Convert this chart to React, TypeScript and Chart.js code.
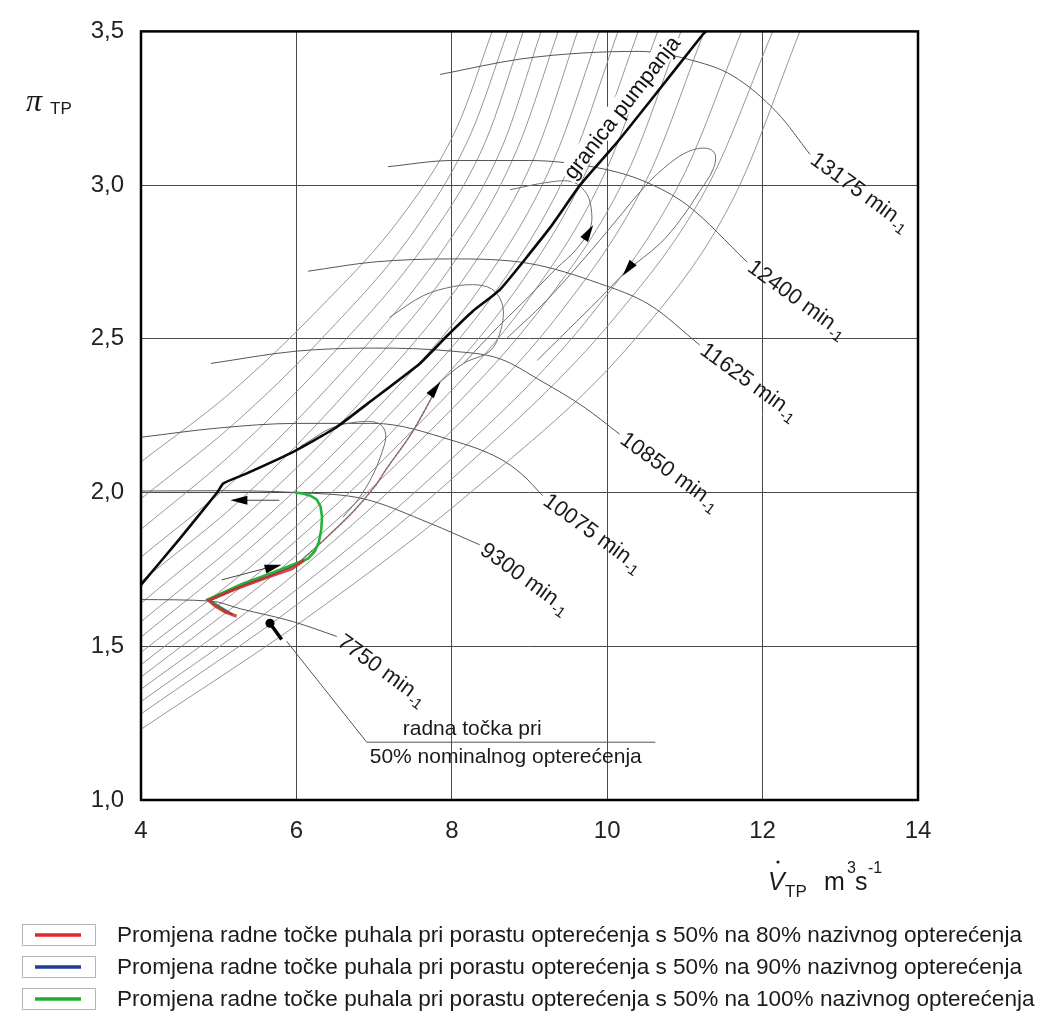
import React, { useEffect, useRef } from 'react';
import { Chart, registerables } from 'chart.js';

Chart.register(...registerables);

type P = [number, number];

// ---------- axes ----------
const xTickValues = [4, 6, 8, 10, 12, 14];
const yTickValues = [1.0, 1.5, 2.0, 2.5, 3.0, 3.5];

// ---------- surge line (granica pumpanja) ----------
const surgeLine: P[] = [
  [4.0, 1.7], [4.5, 1.85], [4.98, 2.0], [5.06, 2.03], [5.34, 2.06], [5.94, 2.13], [6.5, 2.21],
  [6.92, 2.29], [7.59, 2.42], [7.94, 2.51], [8.27, 2.59], [8.62, 2.66], [9.26, 2.86], [9.65, 3.0],
  [10.13, 3.14], [10.51, 3.26], [11.23, 3.49], [11.27, 3.5],
];
const surgeLabelAnchor: P = [9.64, 3.0];

// ---------- constant speed lines ----------
const speedLabels = ['7750', '9300', '10075', '10850', '11625', '12400', '13175'];
const speed7750: P[] = [[4.0, 1.652], [4.9, 1.647], [5.28, 1.622], [5.96, 1.58], [6.52, 1.532]];
const speed9300: P[] = [[4.0, 2.005], [5.0, 2.006], [6.0, 2.0], [6.86, 1.98], [7.72, 1.9], [8.36, 1.83]];
const speed10075: P[] = [[4.0, 2.18], [5.0, 2.21], [6.0, 2.225], [7.0, 2.225], [8.0, 2.17], [8.62, 2.11], [8.9, 2.06], [9.17, 1.99]];
const speed10850: P[] = [[4.9, 2.42], [6.0, 2.46], [7.0, 2.47], [8.0, 2.46], [8.62, 2.435], [9.17, 2.36], [9.69, 2.28], [10.16, 2.19]];
const speed11625: P[] = [[6.15, 2.72], [7.0, 2.75], [8.0, 2.76], [9.0, 2.745], [9.9, 2.68], [10.55, 2.61], [11.19, 2.48]];
const speed12400: P[] = [[7.18, 3.06], [8.0, 3.08], [9.0, 3.08], [10.0, 3.05], [10.5, 3.01], [11.03, 2.935], [11.8, 2.75]];
const speed13175: P[] = [[7.85, 3.36], [8.88, 3.41], [9.7, 3.43], [10.42, 3.435], [11.03, 3.41], [11.62, 3.355], [12.19, 3.235], [12.61, 3.1]];
const speedLines = [speed7750, speed9300, speed10075, speed10850, speed11625, speed12400, speed13175];

// ---------- fan of thin diagonal characteristic curves ----------
const fanCurves: P[][] = [
  [[4, 1.23], [6.12, 1.59], [8.24, 2.0], [10.36, 2.5], [11.63, 2.96], [12.48, 3.5]],
  [[4, 1.28], [6.03, 1.64], [8.07, 2.06], [10.1, 2.57], [11.32, 3.01], [12.13, 3.5]],
  [[4, 1.32], [5.93, 1.67], [7.87, 2.08], [9.8, 2.58], [10.96, 3.02], [11.73, 3.5]],
  [[4, 1.36], [5.81, 1.7], [7.63, 2.11], [9.44, 2.6], [10.53, 3.03], [11.25, 3.5]],
  [[4, 1.4], [5.74, 1.74], [7.48, 2.14], [9.21, 2.62], [10.26, 3.04], [10.95, 3.5]],
  [[4, 1.44], [5.66, 1.77], [7.33, 2.16], [8.99, 2.63], [9.99, 3.05], [10.65, 3.5]],
  [[4, 1.48], [5.6, 1.8], [7.2, 2.19], [8.8, 2.65], [9.76, 3.06], [10.4, 3.5]],
  [[4, 1.53], [5.54, 1.85], [7.07, 2.22], [8.61, 2.67], [9.53, 3.07], [10.14, 3.5]],
  [[4, 1.58], [5.48, 1.89], [6.95, 2.25], [8.43, 2.69], [9.31, 3.08], [9.9, 3.5]],
  [[4, 1.64], [5.41, 1.94], [6.81, 2.29], [8.22, 2.72], [9.06, 3.09], [9.62, 3.5]],
  [[4, 1.71], [5.34, 1.99], [6.69, 2.34], [8.03, 2.75], [8.83, 3.11], [9.37, 3.5]],
  [[4, 1.79], [5.29, 2.06], [6.58, 2.39], [7.86, 2.78], [8.64, 3.12], [9.15, 3.5]],
  [[4, 1.88], [5.23, 2.14], [6.46, 2.45], [7.69, 2.82], [8.43, 3.14], [8.92, 3.5]],
  [[4, 1.98], [5.18, 2.22], [6.36, 2.51], [7.54, 2.86], [8.25, 3.17], [8.72, 3.5]],
  [[4, 2.1], [5.13, 2.32], [6.26, 2.59], [7.39, 2.91], [8.07, 3.19], [8.52, 3.5]],
];

// ---------- transient trajectories ----------
const path80Red: P[] = [[5.23, 1.598], [5.08, 1.612], [4.95, 1.632], [4.87, 1.65], [5.2, 1.685], [5.6, 1.722], [5.94, 1.752], [6.1, 1.78]];
const path90Blue: P[] = [[5.18, 1.603], [4.88, 1.649], [5.3, 1.697], [5.7, 1.733], [6.05, 1.772]];
const path100Green: P[] = [
  [5.12, 1.607], [4.86, 1.652], [5.3, 1.703], [5.7, 1.74], [6.0, 1.77], [6.15, 1.785], [6.24, 1.81],
  [6.29, 1.84], [6.32, 1.88], [6.33, 1.92], [6.31, 1.955], [6.26, 1.978], [6.18, 1.99], [6.08, 1.997], [5.98, 2.0],
];
const risingPath: P[] = [[6.0, 1.765], [6.33, 1.84], [6.72, 1.935], [7.01, 2.02], [7.14, 2.07], [7.5, 2.2], [7.85, 2.36]];
const loopA: P[] = [[6.6, 1.92], [6.8, 1.98], [6.97, 2.05], [7.1, 2.13], [7.15, 2.19], [7.06, 2.225], [6.8, 2.23], [6.45, 2.21], [6.15, 2.165], [6.05, 2.15]];
const loopB: P[] = [[7.85, 2.36], [8.15, 2.42], [8.49, 2.46], [8.62, 2.52], [8.66, 2.6], [8.55, 2.655], [8.35, 2.675], [8.02, 2.67], [7.63, 2.64], [7.2, 2.57]];
const loopC: P[] = [[8.15, 2.42], [8.6, 2.54], [9.0, 2.64], [9.35, 2.73], [9.6, 2.79], [9.78, 2.86], [9.8, 2.91], [9.74, 2.97], [9.56, 3.01], [9.26, 3.01], [8.75, 2.985]];
const loopD: P[] = [
  [8.7, 2.5], [9.2, 2.62], [9.7, 2.76], [10.1, 2.88], [10.5, 3.0], [10.8, 3.07], [11.05, 3.11], [11.28, 3.12],
  [11.39, 3.1], [11.36, 3.05], [11.19, 2.98], [10.95, 2.89], [10.68, 2.81], [10.25, 2.72], [9.9, 2.63], [9.5, 2.53], [9.1, 2.43],
];
const leftArrowLine: P[] = [[5.78, 1.975], [5.25, 1.975]];
const rightArrowLine: P[] = [[5.04, 1.716], [5.7, 1.76]];

// arrow heads (tip position + pointing angle in degrees, screen orientation)
const arrowX = [5.15, 5.81, 7.85, 9.82, 10.2];
const arrowY = [1.975, 1.765, 2.36, 2.87, 2.705];
const arrowAngle = [180, -15, -54, -58, 128];

// operating point marker at 50 % load
const pinPoint: P[] = [[5.66, 1.575]];
const pinTail: P[] = [[5.66, 1.575], [5.81, 1.522]];
const pinLeader: P[] = [[5.875, 1.516], [6.905, 1.188], [10.62, 1.188]];

// legend
const legendLabels = [
  'Promjena radne točke puhala pri porastu opterećenja s 50% na 80% nazivnog opterećenja',
  'Promjena radne točke puhala pri porastu opterećenja s 50% na 90% nazivnog opterećenja',
  'Promjena radne točke puhala pri porastu opterećenja s 50% na 100% nazivnog opterećenja',
];
const legendColors = ['#e3262b', '#1f3f94', '#1fae2f'];

const FONT = "'Liberation Sans', Arial, Helvetica, sans-serif";

function ds(points: P[], opts: any) {
  return {
    data: points.map(([x, y]) => ({ x, y })),
    pointRadius: 0,
    pointHoverRadius: 0,
    fill: false,
    ...opts,
  };
}

const decor = {
  id: 'decor',
  afterDraw(chart: any) {
    const { ctx, chartArea: ca, scales } = chart;
    const px = (v: number) => scales.x.getPixelForValue(v);
    const py = (v: number) => scales.y.getPixelForValue(v);
    ctx.save();

    // arrow heads
    arrowX.forEach((ax, i) => {
      ctx.save();
      ctx.translate(px(ax), py(arrowY[i]));
      ctx.rotate((arrowAngle[i] * Math.PI) / 180);
      ctx.beginPath();
      ctx.moveTo(0, 0);
      ctx.lineTo(-17, -4.5);
      ctx.lineTo(-17, 4.5);
      ctx.closePath();
      ctx.fillStyle = '#000';
      ctx.fill();
      ctx.restore();
    });

    // speed labels
    speedLines.forEach((line, i) => {
      const [lx, ly] = line[line.length - 1];
      ctx.save();
      ctx.translate(px(lx), py(ly));
      ctx.rotate((36 * Math.PI) / 180);
      ctx.fillStyle = '#1a1a1a';
      ctx.textAlign = 'left';
      ctx.textBaseline = 'middle';
      ctx.font = `22px ${FONT}`;
      const main = speedLabels[i] + ' min';
      ctx.fillText(main, 4, 1);
      const w = ctx.measureText(main).width;
      ctx.font = `15px ${FONT}`;
      ctx.fillText('-1', 5 + w, 8);
      ctx.restore();
    });

    // surge line label
    {
      ctx.save();
      ctx.translate(px(surgeLabelAnchor[0]), py(surgeLabelAnchor[1]));
      ctx.rotate((-52 * Math.PI) / 180);
      ctx.font = `22px ${FONT}`;
      const t = 'granica pumpanja';
      const w = ctx.measureText(t).width;
      ctx.fillStyle = '#fff';
      ctx.fillRect(-2, -26, w + 4, 21);
      ctx.fillStyle = '#111';
      ctx.textAlign = 'left';
      ctx.textBaseline = 'alphabetic';
      ctx.fillText(t, 0, -7);
      ctx.restore();
    }

    // operating point text
    {
      const X = px(pinLeader[1][0]);
      const Y = py(pinLeader[1][1]);
      ctx.font = `21px ${FONT}`;
      ctx.fillStyle = '#1a1a1a';
      ctx.textAlign = 'left';
      ctx.textBaseline = 'alphabetic';
      ctx.fillText('radna točka pri', X + 36, Y - 7);
      ctx.fillText('50% nominalnog opterećenja', X + 3, Y + 21);
    }

    // frame
    ctx.strokeStyle = '#000';
    ctx.lineWidth = 2.5;
    ctx.strokeRect(ca.left, ca.top, ca.right - ca.left, ca.bottom - ca.top);

    // y axis title  π_TP
    ctx.fillStyle = '#1a1a1a';
    ctx.textAlign = 'left';
    ctx.textBaseline = 'alphabetic';
    ctx.font = "italic 32px 'Liberation Serif', 'DejaVu Serif', serif";
    ctx.fillText('π', 26, 111);
    ctx.font = `17px ${FONT}`;
    ctx.fillText('TP', 50, 114);

    // x axis title  V̇_TP  m³s⁻¹
    ctx.font = `italic 25px ${FONT}`;
    ctx.fillText('V', 768, 890);
    ctx.beginPath();
    ctx.arc(778, 862, 1.6, 0, Math.PI * 2);
    ctx.fill();
    ctx.font = `17px ${FONT}`;
    ctx.fillText('TP', 785, 897);
    ctx.font = `25px ${FONT}`;
    ctx.fillText('m', 824, 890);
    ctx.font = `16px ${FONT}`;
    ctx.fillText('3', 847, 873);
    ctx.font = `25px ${FONT}`;
    ctx.fillText('s', 855, 890);
    ctx.font = `16px ${FONT}`;
    ctx.fillText('-1', 868, 873);

    // legend
    const rowY = [935, 967, 999];
    ctx.font = `22px ${FONT}`;
    const w0 = ctx.measureText(legendLabels[0]).width;
    const sx = 905 / w0;
    legendLabels.forEach((lab, i) => {
      const cy = rowY[i];
      ctx.fillStyle = '#fff';
      ctx.fillRect(22, cy - 11, 73, 21);
      ctx.strokeStyle = '#b5b5b5';
      ctx.lineWidth = 1;
      ctx.strokeRect(22.5, cy - 10.5, 73, 21);
      ctx.strokeStyle = legendColors[i];
      ctx.lineWidth = 3.5;
      ctx.beginPath();
      ctx.moveTo(35, cy);
      ctx.lineTo(81, cy);
      ctx.stroke();
      ctx.save();
      ctx.translate(117, cy + 7);
      ctx.scale(sx, 1);
      ctx.font = `22px ${FONT}`;
      ctx.fillStyle = '#1a1a1a';
      ctx.fillText(lab, 0, 0);
      ctx.restore();
    });

    ctx.restore();
  },
};

export default function App() {
  const ref = useRef<HTMLCanvasElement | null>(null);

  useEffect(() => {
    if (!ref.current) return;
    const grey = '#6e6e6e';
    const datasets: any[] = [
      ds(surgeLine, { borderColor: '#0a0a0a', borderWidth: 2.6, tension: 0.15, order: 0 }),
      ds(pinPoint, { pointRadius: 4.5, pointBackgroundColor: '#000', pointBorderWidth: 0, showLine: false, order: 0 }),
      ds(pinTail, { borderColor: '#000', borderWidth: 3.5, tension: 0, order: 0 }),
      ds(path80Red, { borderColor: 'rgba(205,45,40,0.85)', borderWidth: 3.2, tension: 0, order: 1 }),
      ds(path100Green, { borderColor: '#22b33a', borderWidth: 2.6, tension: 0, order: 2 }),
      ds(path90Blue, { borderColor: '#2a4aa0', borderWidth: 2, tension: 0, order: 3 }),
      ds(risingPath, { borderColor: 'rgba(215,60,80,0.7)', borderWidth: 1.6, borderDash: [1, 3], tension: 0.3, order: 4 }),
      ds(risingPath, { borderColor: '#777', borderWidth: 1.4, tension: 0.3, order: 5 }),
      ds(leftArrowLine, { borderColor: '#444', borderWidth: 1, tension: 0, order: 5 }),
      ds(rightArrowLine, { borderColor: '#444', borderWidth: 1, tension: 0, order: 5 }),
      ds(pinLeader, { borderColor: '#555', borderWidth: 1, tension: 0, order: 5 }),
      ds(loopA, { borderColor: grey, borderWidth: 1, tension: 0.35, order: 6 }),
      ds(loopB, { borderColor: grey, borderWidth: 1, tension: 0.35, order: 6 }),
      ds(loopC, { borderColor: grey, borderWidth: 1, tension: 0.35, order: 6 }),
      ds(loopD, { borderColor: grey, borderWidth: 1, tension: 0.35, order: 6 }),
      ...speedLines.map((l) => ds(l, { borderColor: '#555', borderWidth: 1, cubicInterpolationMode: 'monotone', order: 7 })),
      ...fanCurves.map((l) => ds(l, { borderColor: '#8a8a8a', borderWidth: 0.9, cubicInterpolationMode: 'monotone', order: 8 })),
    ];

    const chart = new Chart(ref.current, {
      type: 'line',
      data: { datasets },
      plugins: [decor],
      options: {
        responsive: false,
        animation: false,
        devicePixelRatio: 1,
        events: [],
        layout: { padding: { left: 0, top: 25, right: 123, bottom: 171 } },
        plugins: { legend: { display: false }, tooltip: { enabled: false }, title: { display: false } },
        scales: {
          x: {
            type: 'linear',
            min: 4,
            max: 14,
            afterFit: (s: any) => { s.height = 60; },
            afterBuildTicks: (s: any) => { s.ticks = xTickValues.map((v) => ({ value: v })); },
            ticks: { font: { size: 24, family: FONT }, color: '#222', padding: 17, maxRotation: 0, callback: (v: any) => String(v) },
            grid: { color: '#4a4a4a', lineWidth: 1, drawTicks: false },
            border: { display: false },
          },
          y: {
            type: 'linear',
            min: 1,
            max: 3.5,
            afterFit: (s: any) => { s.width = 141; },
            afterBuildTicks: (s: any) => { s.ticks = yTickValues.map((v) => ({ value: v })); },
            ticks: { font: { size: 24, family: FONT }, color: '#222', padding: 17, callback: (v: any) => Number(v).toFixed(1).replace('.', ',') },
            grid: { color: '#4a4a4a', lineWidth: 1, drawTicks: false },
            border: { display: false },
          },
        },
      },
    });
    return () => chart.destroy();
  }, []);

  return (
    <div style={{ position: 'absolute', left: 0, top: 0, width: 1041, height: 1031, background: '#fff' }}>
      <canvas ref={ref} width={1041} height={1031} style={{ display: 'block' }} />
    </div>
  );
}
